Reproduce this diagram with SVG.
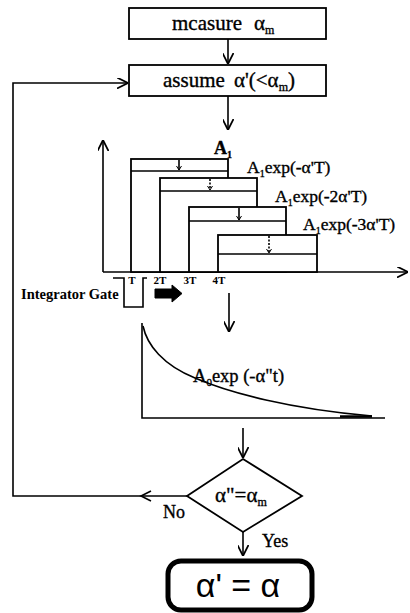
<svg xmlns="http://www.w3.org/2000/svg" width="410" height="613" viewBox="0 0 410 613">
<style>
.ln{fill:none;stroke:#000;stroke-width:1.6}
.bx{fill:#fff;stroke:#000;stroke-width:1.8}
.t{font-family:"Liberation Serif","Times New Roman",serif;fill:#000;stroke:#000;stroke-width:0.35}
.sm{font-family:"Liberation Serif","Times New Roman",serif;fill:#000;font-weight:bold}
</style>
<defs>
<marker id="ah" viewBox="0 0 10 10" refX="10" refY="5" markerWidth="11" markerHeight="11" markerUnits="userSpaceOnUse" orient="auto">
<path d="M0,0 L10,5 L0,10" fill="none" stroke="#000" stroke-width="1.6"/>
</marker>
</defs>
<rect width="410" height="613" fill="#fff"/>

<g id="n-measure">
<rect class="bx" x="129" y="8" width="197" height="31"/>
<text class="t" x="172" y="30" font-size="21">mcasure<tspan x="254">α</tspan><tspan font-size="12" dy="4">m</tspan></text>
</g>

<g id="n-assume">
<rect class="bx" x="129" y="65" width="197" height="31"/>
<text class="t" x="163" y="87" font-size="21">assume<tspan x="234">α'(&lt;α</tspan><tspan font-size="12" dy="4">m</tspan><tspan dy="-4">)</tspan></text>
</g>

<g id="n-staircase">
<line class="ln" x1="103" y1="272" x2="103" y2="140" marker-end="url(#ah)"/>
<line class="ln" x1="103" y1="272" x2="408" y2="272" marker-end="url(#ah)"/>
<rect class="bx" x="131" y="159" width="97" height="113"/>
<line class="ln" x1="131" y1="171" x2="228" y2="171" stroke-width="2.2"/>
<rect class="bx" x="160" y="178" width="97" height="94"/>
<line class="ln" x1="160" y1="191" x2="257" y2="191" stroke-width="2.2"/>
<rect class="bx" x="189" y="207" width="97" height="65"/>
<line class="ln" x1="189" y1="221" x2="286" y2="221" stroke-width="2.2"/>
<rect class="bx" x="218" y="235" width="99" height="37"/>
<line class="ln" x1="218" y1="254" x2="317" y2="254" stroke-width="2.2"/>
<line class="ln" x1="179" y1="160" x2="179" y2="170" stroke-width="1"/>
<path d="M176.5,166 L179,170 L181.5,166" fill="none" stroke="#000" stroke-width="1"/>
<line class="ln" x1="210" y1="179" x2="210" y2="190" stroke-width="1" stroke-dasharray="2,1.5"/>
<path d="M207.5,186 L210,190 L212.5,186" fill="none" stroke="#000" stroke-width="1"/>
<line class="ln" x1="239" y1="208" x2="239" y2="220" stroke-width="1"/>
<path d="M236.5,216 L239,220 L241.5,216" fill="none" stroke="#000" stroke-width="1"/>
<line class="ln" x1="269" y1="236" x2="269" y2="253" stroke-width="1" stroke-dasharray="2,1.5"/>
<path d="M266.5,249 L269,253 L271.5,249" fill="none" stroke="#000" stroke-width="1"/>
<text class="t" x="214" y="154" font-size="18" font-weight="bold">A<tspan font-size="10" dy="4">1</tspan></text>
<text class="t" x="247" y="173" font-size="17.5">A<tspan font-size="10" dy="4">1</tspan><tspan dy="-4">exp(-α'T)</tspan></text>
<text class="t" x="275" y="202" font-size="17.5">A<tspan font-size="10" dy="4">1</tspan><tspan dy="-4">exp(-2α'T)</tspan></text>
<text class="t" x="303" y="230" font-size="17.5">A<tspan font-size="10" dy="4">1</tspan><tspan dy="-4">exp(-3α'T)</tspan></text>
</g>

<g id="n-gate">
<polyline class="ln" points="113,278 124,278 124,307 143,307 143,278 147,278" stroke-width="1.4"/>
<text class="sm" x="21" y="299" font-size="14.5">Integrator Gate</text>
<text class="sm" x="132" y="284" font-size="11" text-anchor="middle">T</text>
<text class="sm" x="160" y="284" font-size="11" text-anchor="middle">2T</text>
<text class="sm" x="190" y="284" font-size="11" text-anchor="middle">3T</text>
<text class="sm" x="219" y="284" font-size="11" text-anchor="middle">4T</text>
<polygon points="155,289 172,289 172,285 182,293.5 172,302 172,298 155,298" fill="#000" stroke="#000" stroke-width="1" stroke-linejoin="round"/>
</g>

<g id="n-decay">
<polyline class="ln" points="142,323 142,418 385,418"/>
<path class="ln" d="M143,326 C147,345 163,365 195,378 C230,393 290,409 372,416" stroke-width="1.5"/>
<line x1="340" y1="416.5" x2="372" y2="416.5" stroke="#000" stroke-width="2.5"/>
<text class="t" x="193" y="382" font-size="18.5">A<tspan font-size="11" dy="4">0</tspan><tspan dy="-4">exp (-α"t)</tspan></text>
</g>

<g id="n-decision">
<polygon class="bx" points="243,459 302,496 243,532 187,496"/>
<text class="t" x="215" y="502" font-size="21">α"=α<tspan font-size="12" dy="4">m</tspan></text>
</g>

<g id="n-result">
<rect x="168" y="561" width="144" height="49" rx="13" ry="13" fill="#fff" stroke="#000" stroke-width="5"/>
<text x="238" y="597" font-family="'Liberation Sans',Arial,sans-serif" font-size="34" text-anchor="middle">α' = α</text>
</g>

<g id="connectors">
<line class="ln" x1="228" y1="39" x2="228" y2="64" marker-end="url(#ah)"/>
<line class="ln" x1="228" y1="96" x2="228" y2="130" marker-end="url(#ah)"/>
<line class="ln" x1="229" y1="293" x2="229" y2="332" marker-end="url(#ah)"/>
<line class="ln" x1="243" y1="428" x2="243" y2="458" marker-end="url(#ah)"/>
<line class="ln" x1="243" y1="532" x2="243" y2="556" marker-end="url(#ah)"/>
<polyline class="ln" points="187,496 13,496 13,83 128,83" marker-end="url(#ah)"/>
<path class="ln" d="M151,491 L141,496 L151,501"/>
<text class="t" x="163" y="518" font-size="18">No</text>
<text class="t" x="262" y="547" font-size="18">Yes</text>
</g>
</svg>
